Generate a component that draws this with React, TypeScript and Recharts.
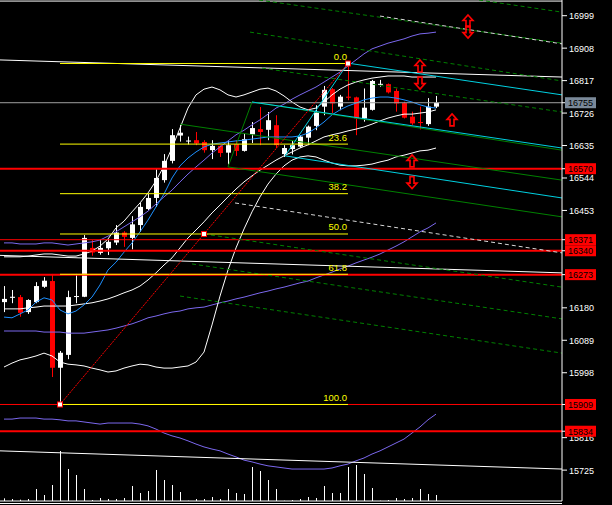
import React from "react";
import { ComposedChart, XAxis, YAxis, Bar, Line, ReferenceLine, Scatter } from "recharts";

// ---- candles (price values) ----
const openP = [16196,16208,16210,16168,16196,16239,16255,16012,16048,16212,16211,16348,16334,16347,16363,16391,16376,16412,16457,16488,16538,16592,16663,16648,16650,16645,16622,16634,16615,16639,16620,16666,16681,16679,16692,16611,16625,16632,16657,16690,16744,16793,16744,16772,16770,16711,16735,16807,16807,16788,16754,16716,16701,16695,16744];
const highP = [16241,16230,16216,16204,16252,16266,16275,16059,16228,16275,16384,16370,16373,16373,16412,16395,16437,16474,16499,16569,16611,16681,16693,16660,16673,16650,16650,16636,16649,16649,16669,16701,16743,16729,16720,16636,16648,16664,16691,16748,16802,16796,16777,16865,16772,16795,16819,16819,16809,16795,16758,16730,16744,16768,16774];
const lowP = [16168,16193,16155,16163,16193,16236,15986,15909,16036,16193,16210,16326,16329,16328,16356,16351,16344,16393,16454,16463,16531,16585,16646,16638,16636,16615,16597,16603,16582,16606,16618,16642,16636,16650,16628,16603,16610,16629,16636,16678,16720,16726,16734,16762,16664,16702,16733,16800,16781,16730,16711,16693,16680,16690,16740];
const closeP = [16205,16211,16166,16202,16241,16256,16012,16054,16210,16213,16376,16335,16348,16365,16391,16379,16414,16463,16488,16544,16592,16664,16671,16649,16641,16622,16634,16614,16636,16620,16653,16684,16673,16706,16636,16628,16636,16660,16688,16728,16791,16753,16772,16769,16711,16741,16816,16808,16784,16753,16713,16697,16698,16744,16755];
const volume = [8,6,4,6,36,18,48,150,96,78,36,3,9,6,6,9,45,24,30,93,63,48,27,1,6,6,12,6,36,24,21,102,90,63,36,1,3,6,12,9,45,24,24,102,108,81,39,1,3,9,6,9,36,21,18];

// ---- indicator lines ----
const bbUpper = [16323,16323,16323,16325,16328,16331,16331,16328,16325,16325,16331,16339,16353,16373,16404,16423,16449,16474,16502,16536,16578,16628,16684,16740,16777,16793,16799,16791,16777,16771,16777,16785,16793,16796,16788,16774,16757,16743,16735,16740,16757,16777,16793,16805,16813,16819,16824,16827,16830,16830,16830,16827,16827,16827,16827];
const bbMiddle = [16177,16177,16177,16180,16182,16185,16185,16185,16185,16188,16191,16194,16199,16205,16213,16222,16230,16241,16258,16278,16300,16320,16348,16376,16398,16421,16446,16468,16491,16513,16533,16550,16566,16580,16594,16606,16617,16628,16637,16648,16659,16665,16670,16676,16681,16687,16695,16704,16712,16718,16723,16723,16726,16729,16735];
const bbLower = [16014,16025,16034,16039,16045,16053,16045,16028,16022,16020,16017,16011,16006,16000,16003,16011,16017,16022,16020,16014,16011,16011,16014,16017,16028,16056,16132,16213,16286,16348,16401,16449,16491,16527,16555,16578,16594,16603,16606,16603,16594,16586,16580,16578,16578,16580,16583,16589,16594,16603,16608,16614,16620,16622,16628];
const maFast = [16154,16152,16163,16174,16196,16208,16202,16174,16163,16171,16188,16210,16244,16286,16308,16336,16362,16393,16426,16463,16499,16544,16578,16600,16617,16631,16639,16642,16645,16648,16650,16653,16656,16659,16659,16659,16659,16662,16670,16684,16701,16721,16735,16746,16754,16763,16768,16771,16771,16768,16763,16757,16749,16743,16740];
const maMid = [16362,16362,16359,16359,16359,16362,16362,16359,16356,16359,16362,16365,16370,16381,16393,16407,16421,16435,16451,16471,16491,16510,16533,16555,16575,16594,16614,16631,16648,16665,16678,16693,16707,16723,16740,16751,16765,16777,16788,16799,16813,16827,16841,16858,16875,16892,16906,16914,16922,16928,16934,16942,16948,16950,16953];
const maSlow = [16115,16115,16115,16115,16115,16112,16112,16112,16109,16109,16109,16112,16115,16118,16123,16129,16135,16143,16152,16157,16163,16168,16171,16177,16180,16182,16188,16194,16199,16205,16210,16216,16222,16227,16233,16238,16244,16250,16255,16264,16272,16280,16289,16297,16306,16314,16322,16331,16342,16353,16365,16379,16393,16404,16418];
const oscLine = [15868,15868,15871,15871,15871,15868,15868,15866,15863,15863,15860,15857,15854,15857,15857,15857,15857,15854,15849,15840,15829,15821,15815,15807,15798,15790,15784,15779,15770,15762,15753,15748,15742,15737,15734,15731,15728,15728,15728,15728,15728,15731,15737,15742,15751,15759,15770,15779,15790,15801,15812,15829,15846,15866,15882];

// ---- axis ----
const yTicks = [16999,16908,16817,16726,16635,16544,16453,16180,16089,15998,15816,15725];
const yDomain = [15638.4, 17043];
const xDomain = [-0.5, 69.75];

// ---- objects ----
const currentPrice = 16755;
const redLevels = [16570, 16371, 16340, 16273, 15909, 15834];
const fibLabels = ["0.0", "23.6", "38.2", "50.0", "61.8", "100.0"];
const fibValues = [16865, 16639, 16500, 16387, 16274, 15909];
const fibFrom = 7;
const fibTo = 43;
const fibMid = 25;
// segments: [x1, y1, x2, y2] in bar index / price
const whiteSolidSegs = [[-0.5, 16875, 69.75, 16827], [-0.5, 16327, 69.75, 16278], [-0.5, 15779, 69.75, 15728]];
const cyanSegs = [[35.125, 16606, 43, 16866], [43, 16866, 69.75, 16777], [31, 16757, 69.75, 16628], [35.125, 16606, 69.75, 16488]];
const greenSegs = [[22, 16695, 69.75, 16538], [28, 16575, 69.75, 16435], [28, 16575, 31, 16757], [31, 16757, 69.75, 16622]];
const greenDashSegs = [[31.875, 17043, 69.75, 16922], [59.375, 17043, 69.75, 17009], [30.75, 16953, 69.75, 16816], [32.25, 16852, 69.75, 16729], [25, 16387, 69.75, 16238], [23.5, 16303, 69.75, 16149], [22, 16213, 69.75, 16053]];
const whiteDashSegs = [[28.875, 16474, 69.75, 16334], [47, 16998, 69.75, 16920]];
const arrowIdx = [58, 58, 52, 52, 56, 51, 51];
const arrowVal = [16984, 16953, 16858, 16810, 16707, 16592, 16531];
const arrowDir = ["up", "down", "up", "down", "up", "up", "down"];
const topBorder = 17040;

const FONT = "Liberation Sans, Arial, sans-serif";
const tagValues = [currentPrice, ...redLevels];
const axisTicks = [...yTicks, ...tagValues];

const Candle = (props: any) => {
  const { x, y, width, height, payload } = props;
  if (payload == null || x == null) return null;
  const { open, close, high, low } = payload;
  const cx = Math.round(x + width / 2);
  const ratio = high === low ? 0 : height / (high - low);
  const top = y + (high - Math.max(open, close)) * ratio;
  const bot = y + (high - Math.min(open, close)) * ratio;
  const color = close >= open ? "#ffffff" : "#ff0000";
  const bh = Math.max(1, bot - top);
  return (
    <g>
      <rect x={cx} y={y} width={1} height={Math.max(1, height)} fill={color} />
      <rect x={cx - 2} y={top} width={5} height={bh} fill={color} />
    </g>
  );
};

const VolLine = (props: any) => {
  const { x, y, width, height } = props;
  if (x == null) return null;
  const cx = Math.round(x + width / 2);
  return <rect x={cx} y={y} width={1} height={Math.max(0, height)} fill="#ffffff" />;
};

const ArrowShape = (props: any) => {
  const { cx, cy, payload } = props;
  if (cx == null) return null;
  const up = payload.dir === "up";
  const s = up ? 1 : -1;
  const d = `M ${cx} ${cy - 6 * s} L ${cx + 5} ${cy - 0.5 * s} L ${cx + 2} ${cy - 0.5 * s} L ${cx + 2} ${cy + 6 * s} L ${cx - 2} ${cy + 6 * s} L ${cx - 2} ${cy - 0.5 * s} L ${cx - 5} ${cy - 0.5 * s} Z`;
  return <path d={d} fill="none" stroke="#ff0000" strokeWidth={1.6} />;
};

const SquareShape = (props: any) => {
  const { cx, cy } = props;
  if (cx == null) return null;
  return <rect x={cx - 2.5} y={cy - 2.5} width={5} height={5} fill="#ffffff" stroke="#ff0000" strokeWidth={1} />;
};

const FibText = (props: any) => {
  const { cx, cy, payload } = props;
  if (cx == null) return null;
  return (
    <text x={cx - 1} y={cy - 3.5} textAnchor="end" fill="#ffff00" fontSize={9.5} fontFamily={FONT}>
      {payload.label}
    </text>
  );
};

const AxisTick = (props: any) => {
  const { x, y, payload } = props;
  const v = payload?.value;
  if (tagValues.includes(v)) {
    const bg = v === currentPrice ? "#7a8999" : "#ff0000";
    return (
      <g>
        <rect x={x - 4} y={y - 5.5} width={31} height={11} fill={bg} />
        <text x={x + 11.5} y={y + 3.5} textAnchor="middle" fill="#000000" fontSize={9} fontFamily={FONT}>
          {String(v)}
        </text>
      </g>
    );
  }
  return (
    <text x={x} y={y + 3.5} textAnchor="start" fill="#ffffff" fontSize={9} fontFamily={FONT}>
      {String(v)}
    </text>
  );
};

const redWidths = [2, 1, 2, 2, 1, 2];

export default function App() {
  const data = openP.map((o, i) => ({
    i,
    open: o,
    high: highP[i],
    low: lowP[i],
    close: closeP[i],
    range: [lowP[i], highP[i]],
    vol: volume[i],
    bbUpper: bbUpper[i],
    bbMiddle: bbMiddle[i],
    bbLower: bbLower[i],
    maFast: maFast[i],
    maMid: maMid[i],
    maSlow: maSlow[i],
    osc: oscLine[i],
  }));
  const arrowData = arrowIdx.map((a, k) => ({ i: a, v: arrowVal[k], dir: arrowDir[k] }));
  const squareData = [
    { i: fibFrom, v: fibValues[5] },
    { i: fibTo, v: fibValues[0] },
    { i: fibMid, v: fibValues[3] },
  ];
  const fibTextData = fibLabels.map((l, k) => ({ i: fibTo, v: fibValues[k], label: l }));

  const seg = (s: number[], key: string, stroke: string, dash?: string, w = 1) => (
    <ReferenceLine
      key={key}
      xAxisId="p"
      yAxisId="p"
      segment={[{ x: s[0], y: s[1] }, { x: s[2], y: s[3] }]}
      stroke={stroke}
      strokeDasharray={dash}
      strokeWidth={w}
      ifOverflow="visible"
    />
  );

  const line = (key: string, color: string) => (
    <Line
      xAxisId="p"
      yAxisId="p"
      type="linear"
      dataKey={key}
      stroke={color}
      dot={false}
      activeDot={false}
      strokeWidth={1}
      isAnimationActive={false}
    />
  );

  return (
    <div style={{ position: "absolute", left: 0, top: 0, width: 612, height: 505, background: "#000", overflow: "hidden" }}>
      <ComposedChart width={612} height={505} data={data} margin={{ top: 0, right: 0, bottom: 4, left: 0 }}>
        <XAxis xAxisId="p" type="number" dataKey="i" domain={xDomain} hide allowDataOverflow />
        <XAxis xAxisId="v" type="number" dataKey="i" domain={xDomain} hide allowDataOverflow />
        <YAxis yAxisId="vol" hide domain={[0, 1503]} allowDataOverflow />
        <YAxis
          yAxisId="p"
          orientation="right"
          width={50}
          domain={yDomain}
          allowDataOverflow
          ticks={axisTicks}
          interval={0}
          tickSize={5}
          tickMargin={2}
          axisLine={{ stroke: "#ffffff" }}
          tickLine={{ stroke: "#ffffff" }}
          tick={<AxisTick />}
        />

        <Bar xAxisId="v" yAxisId="vol" dataKey="vol" shape={<VolLine />} isAnimationActive={false} barSize={4} />

        {line("osc", "#7b68ee")}
        {line("maSlow", "#7b68ee")}
        {line("maMid", "#7b68ee")}
        {line("bbUpper", "#ffffff")}
        {line("bbMiddle", "#ffffff")}
        {line("bbLower", "#ffffff")}
        {line("maFast", "#1e90ff")}

        <Bar xAxisId="p" yAxisId="p" dataKey="range" shape={<Candle />} isAnimationActive={false} barSize={6} />

        <ReferenceLine xAxisId="p" yAxisId="p" y={topBorder} stroke="#ffffff" />
        <ReferenceLine xAxisId="p" yAxisId="p" y={yDomain[0]} stroke="#ffffff" />
        <ReferenceLine xAxisId="p" yAxisId="p" y={currentPrice} stroke="#a0a0a0" />
        {redLevels.map((lv, k) => (
          <ReferenceLine key={"r" + k} xAxisId="p" yAxisId="p" y={lv} stroke="#ff0000" strokeWidth={redWidths[k]} />
        ))}

        {whiteSolidSegs.map((s, k) => seg(s, "ws" + k, "#ffffff"))}
        {greenDashSegs.map((s, k) => seg(s, "gd" + k, "#008000", "4 3"))}
        {whiteDashSegs.map((s, k) => seg(s, "wd" + k, "#d8d8d8", "4 3"))}
        {greenSegs.map((s, k) => seg(s, "g" + k, "#008000"))}
        {cyanSegs.map((s, k) => seg(s, "c" + k, "#00d0e0"))}
        {fibValues.map((v, k) => seg([fibFrom, v, fibTo, v], "f" + k, "#ffff00"))}
        {seg([fibFrom, fibValues[5], fibTo, fibValues[0]], "fibdiag", "#ff0000", "2 1")}

        <Scatter xAxisId="p" yAxisId="p" data={squareData} dataKey="v" shape={<SquareShape />} isAnimationActive={false} />
        <Scatter xAxisId="p" yAxisId="p" data={fibTextData} dataKey="v" shape={<FibText />} isAnimationActive={false} />
        <Scatter xAxisId="p" yAxisId="p" data={arrowData} dataKey="v" shape={<ArrowShape />} isAnimationActive={false} />
      </ComposedChart>
      <div style={{ position: "absolute", left: 0, top: 503, width: 562, height: 1, background: "#ffffff" }} />
    </div>
  );
}
